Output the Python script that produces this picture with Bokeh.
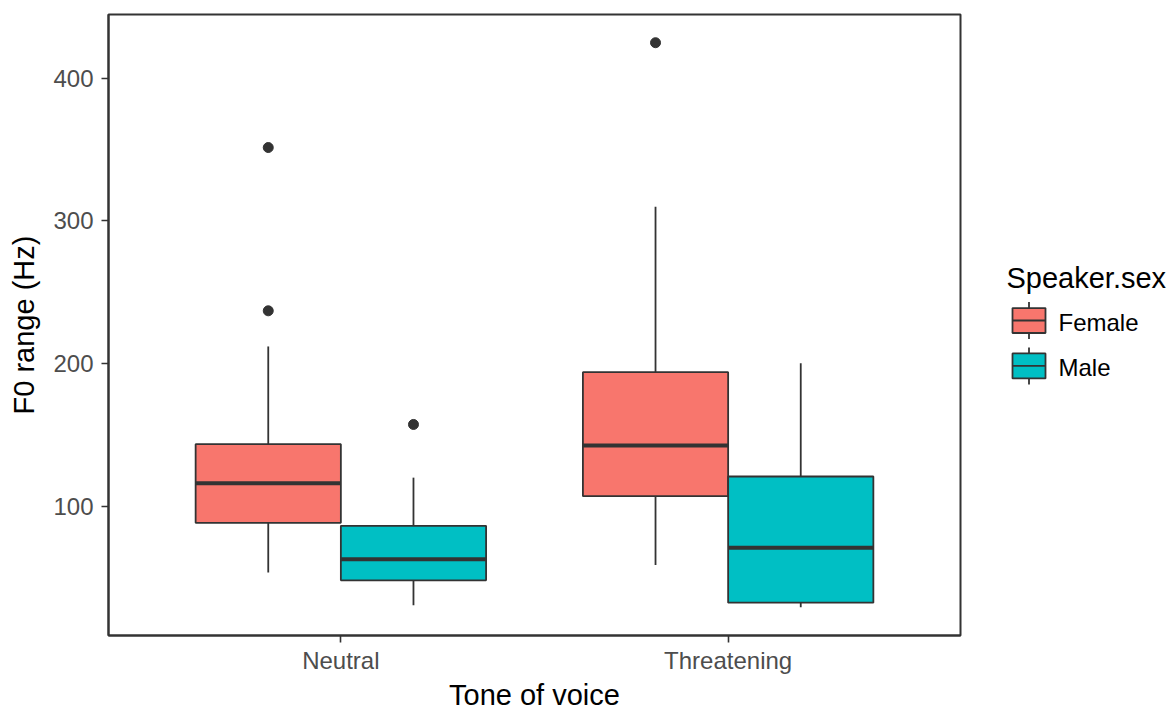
from bokeh.plotting import figure
from bokeh.layouts import row
from bokeh.models import Range1d, FixedTicker, ColumnDataSource
from bokeh.core.properties import value
from bokeh.embed import file_html
from bokeh.resources import INLINE

# ---- data: F0 range (Hz) box-plot summaries per tone of voice and speaker sex
tones = ["Neutral", "Threatening"]
sexes = ["Female", "Male"]
colors = ["#F8766D", "#00BFC4"]

female_lower = [53.5, 58.7]
female_q1 = [88.3, 107.0]
female_median = [116.0, 142.5]
female_q3 = [143.5, 194.0]
female_upper = [212.0, 310.0]
female_outliers = [[237.0, 351.5], [425.0]]

male_lower = [30.6, 29.1]
male_q1 = [48.0, 32.3]
male_median = [62.7, 70.8]
male_q3 = [86.2, 120.8]
male_upper = [120.0, 200.3]
male_outliers = [[157.3], []]

y_ticks = [100, 200, 300, 400]

FONT = "Liberation Sans"
INK = "#333333"
DODGE = 0.75
BOX_W = DODGE / len(sexes)
TICK_FS = "24px"
TITLE_FS = "29px"
TOP, BOTTOM = 14, 77

stats = {
    "Female": (female_lower, female_q1, female_median, female_q3, female_upper, female_outliers),
    "Male": (male_lower, male_q1, male_median, male_q3, male_upper, male_outliers),
}

# y extent with ggplot-style 5% expansion
all_vals = []
for s in sexes:
    lo, q1, md, q3, up, out = stats[s]
    all_vals += lo + up + [v for o in out for v in o]
vmin, vmax = min(all_vals), max(all_vals)
pad = (vmax - vmin) * 0.05

p = figure(width=980, height=713, output_backend="svg", toolbar_location=None,
           x_range=Range1d(0.4, len(tones) + 0.6),
           y_range=Range1d(vmin - pad, vmax + pad),
           min_border_left=108, min_border_right=20,
           min_border_top=TOP, min_border_bottom=BOTTOM,
           background_fill_color="white", border_fill_color="white")

p.xgrid.visible = False
p.ygrid.visible = False
p.outline_line_color = INK
p.outline_line_width = 2

for i, s in enumerate(sexes):
    lo, q1, md, q3, up, out = stats[s]
    offset = -DODGE / 2 + BOX_W * (i + 0.5)
    xs = [k + 1 + offset for k in range(len(tones))]
    src = ColumnDataSource(dict(x=xs, lo=lo, q1=q1, md=md, q3=q3, up=up,
                                left=[x - BOX_W / 2 for x in xs],
                                right=[x + BOX_W / 2 for x in xs]))
    p.segment(x0="x", y0="q3", x1="x", y1="up", source=src, line_color=INK, line_width=1.8)
    p.segment(x0="x", y0="lo", x1="x", y1="q1", source=src, line_color=INK, line_width=1.8)
    p.vbar(x="x", width=BOX_W, bottom="q1", top="q3", source=src,
           fill_color=colors[i], line_color=INK, line_width=1.8)
    p.segment(x0="left", y0="md", x1="right", y1="md", source=src,
              line_color=INK, line_width=4)
    ox = [xs[k] for k in range(len(tones)) for _ in out[k]]
    oy = [v for k in range(len(tones)) for v in out[k]]
    p.scatter(x=ox, y=oy, size=10, color=INK)

# axes
p.xaxis.ticker = FixedTicker(ticks=list(range(1, len(tones) + 1)), minor_ticks=[])
p.xaxis.major_label_overrides = {k + 1: t for k, t in enumerate(tones)}
p.yaxis.ticker = FixedTicker(ticks=y_ticks, minor_ticks=[])
p.xaxis.axis_label = "Tone of voice"
p.yaxis.axis_label = "F0 range (Hz)"
for ax in (p.xaxis, p.yaxis):
    ax.axis_line_color = INK
    ax.axis_line_width = 2
    ax.major_tick_line_color = INK
    ax.major_tick_line_width = 1.6
    ax.major_tick_out = 7
    ax.major_tick_in = 0
    ax.minor_tick_line_color = None
    ax.major_label_text_font = FONT
    ax.major_label_text_font_size = TICK_FS
    ax.major_label_text_color = "#4D4D4D"
    ax.major_label_text_line_height = 1.0
    ax.axis_label_text_font = FONT
    ax.axis_label_text_font_size = TITLE_FS
    ax.axis_label_text_font_style = "normal"
    ax.axis_label_text_color = "black"
    ax.axis_label_text_line_height = 1.0
p.xaxis.major_label_standoff = 4
p.xaxis.axis_label_standoff = 2
p.yaxis.major_label_standoff = 8
p.yaxis.axis_label_standoff = 10

# ---- legend panel; its frame lines up with the main panel, so y runs in page pixels
lg = figure(width=192, height=713, output_backend="svg", toolbar_location=None,
            x_range=Range1d(0, 192), y_range=Range1d(713 - BOTTOM, TOP),
            x_axis_type=None, y_axis_type=None,
            min_border_left=0, min_border_right=0,
            min_border_top=TOP, min_border_bottom=BOTTOM,
            background_fill_color="white", border_fill_color="white")
lg.grid.visible = False
lg.outline_line_color = None

key_left, key_w, key_h, key_top, pitch, whisk = 32, 33, 25, 308, 45.5, 6
lg.text(x=[26], y=[278], text=["Speaker.sex"], text_font=value(FONT),
        text_font_size=TITLE_FS, text_baseline="middle", text_color="black")
tops = [key_top + pitch * i for i in range(len(sexes))]
cx = key_left + key_w / 2
lg.segment(x0=[cx] * len(sexes), y0=[t - whisk for t in tops],
           x1=[cx] * len(sexes), y1=[t + key_h + whisk for t in tops],
           line_color=INK, line_width=1.8)
lg.quad(left=[key_left] * len(sexes), right=[key_left + key_w] * len(sexes),
        top=tops, bottom=[t + key_h for t in tops],
        fill_color=colors, line_color=INK, line_width=1.8)
lg.segment(x0=[key_left] * len(sexes), y0=[t + key_h / 2 for t in tops],
           x1=[key_left + key_w] * len(sexes), y1=[t + key_h / 2 for t in tops],
           line_color=INK, line_width=1.8)
lg.text(x=[key_left + key_w + 13] * len(sexes), y=[t + key_h / 2 + 2 for t in tops],
        text=sexes, text_font=value(FONT), text_font_size=TICK_FS,
        text_baseline="middle", text_color="black")

layout = row(p, lg)
open("out.html", "w").write(file_html(layout, INLINE))
